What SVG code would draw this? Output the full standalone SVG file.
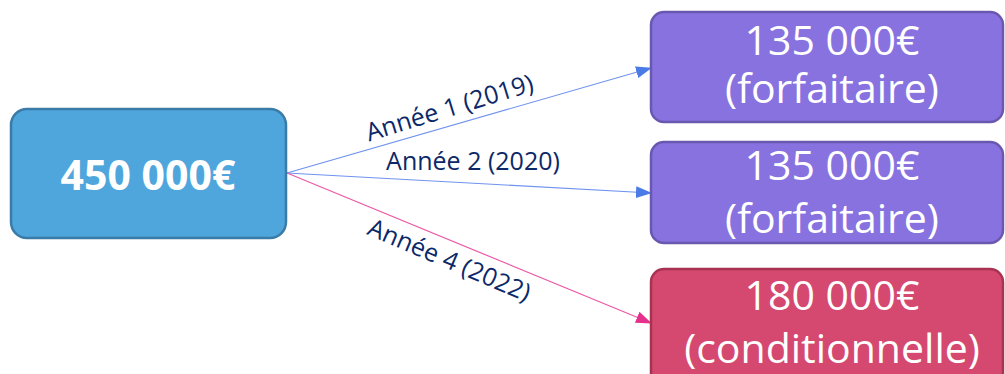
<svg xmlns="http://www.w3.org/2000/svg" width="1005" height="374" viewBox="0 0 1005 374">
<style>
.box{stroke-width:2.5}
.val{font-family:"Open Sans",Lato,sans-serif;font-size:41px;fill:#fff;text-anchor:middle;font-variant-ligatures:none}
.lbl{font-family:"Open Sans",Lato,sans-serif;font-size:25px;fill:#0B2868;text-anchor:middle}
</style>
<defs>
<marker id="ab" markerUnits="userSpaceOnUse" markerWidth="16" markerHeight="12" refX="15" refY="6" orient="auto"><path d="M0,0 L16,6 L0,12 Z" fill="#4A7BE6"/></marker>
<marker id="ap" markerUnits="userSpaceOnUse" markerWidth="16" markerHeight="12" refX="15" refY="6" orient="auto"><path d="M0,0 L16,6 L0,12 Z" fill="#E5318C"/></marker>
</defs>
<rect width="1005" height="374" fill="#fff"/>
<g id="connectors" fill="none" stroke-width="1.2">
<line x1="287" y1="173" x2="651" y2="68" stroke="#6F93EE" marker-end="url(#ab)"/>
<line x1="287" y1="173" x2="651" y2="193" stroke="#6F93EE" marker-end="url(#ab)"/>
<line x1="287" y1="173" x2="651" y2="323" stroke="#EC5AA6" marker-end="url(#ap)"/>
<text class="lbl" transform="translate(452,116) rotate(-17)">Année 1 (2019)</text>
<text class="lbl" x="473" y="170">Année 2 (2020)</text>
<text class="lbl" transform="translate(446,268) rotate(23)">Année 4 (2022)</text>
</g>
<g id="n450">
<rect class="box" x="11" y="109" width="275" height="129" rx="16" fill="#4FA6DC" stroke="#3A7BA8"/>
<text class="val" x="148" y="190" font-size="42" font-weight="bold">450 000€</text>
</g>
<g id="n135a">
<rect class="box" x="651" y="12" width="352" height="110" rx="13" fill="#8872E0" stroke="#6A58B0"/>
<text class="val" x="832" y="55">135 000€</text>
<text class="val" x="832" y="103">(forfaitaire)</text>
</g>
<g id="n135b">
<rect class="box" x="651" y="142" width="352" height="101" rx="13" fill="#8872E0" stroke="#6A58B0"/>
<text class="val" x="832" y="180">135 000€</text>
<text class="val" x="832" y="233">(forfaitaire)</text>
</g>
<g id="n180">
<rect class="box" x="651" y="269" width="352" height="120" rx="13" fill="#D54870" stroke="#A83350"/>
<text class="val" x="832" y="310">180 000€</text>
<text class="val" x="832" y="363">(conditionnelle)</text>
</g>
</svg>
